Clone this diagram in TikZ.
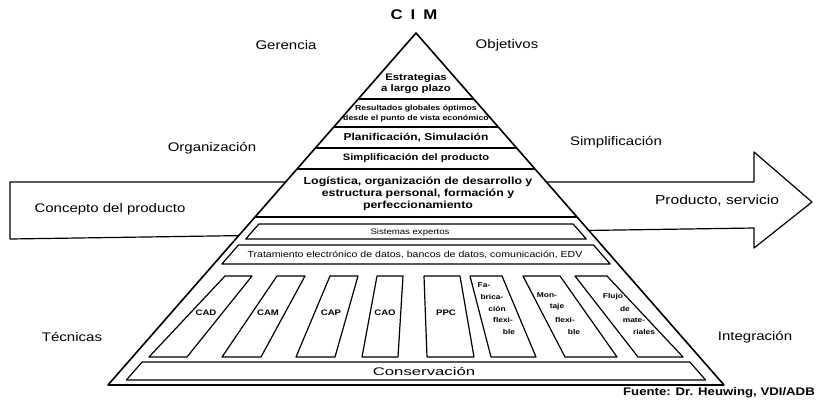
\documentclass[tikz,border=0pt]{standalone}
\usepackage{fontspec}
\setmainfont{Liberation Sans}
\newfontfamily\lab[FakeStretch=1.2]{Liberation Sans}
\newcommand\pyrline[1]{\draw[seg] ({416-0.875*(#1-33)},#1) -- ({416+0.875*(#1-33)},#1);}
\newcommand\pyrband[3]{\draw[seg] ({416-0.875*(#1-33)+#3},#1) -- ({416+0.875*(#1-33)-#3},#1) -- ({416+0.875*(#2-33)-#3},#2) -- ({416-0.875*(#2-33)+#3},#2) -- cycle;}
\tikzset{
  outer/.style={line width=1.6pt},
  seg/.style={line width=1.2pt},
  lbl/.style={inner sep=0pt, font=\lab\fontsize{12.5}{14}\selectfont},
  lay/.style={inner sep=0pt, align=center},
}
\begin{document}
\begin{tikzpicture}[x=1pt,y=-1pt,line join=round]
\useasboundingbox (0,0) rectangle (818,400);
\fill[white] (0,0) rectangle (818,400);
% big arrow behind the pyramid
\draw[seg, fill=white] (10,182) coordinate (arL) -- (754,182) -- (754,152) -- (812,202) coordinate (tip) -- (754,248) -- (754,228) -- (10,239) -- cycle;
% pyramid
\draw[outer, fill=white] (416,33) coordinate (apex) -- (724,385) coordinate (br) -- (108,385) coordinate (bl) -- cycle;
% upper layers
\pyrline{99}
\pyrline{127}
\pyrline{148}
\pyrline{169}
\pyrline{217}
% lower bands
\pyrband{224}{239}{10}
\pyrband{245}{264}{8}
\pyrband{362}{380}{14}
% technique boxes
\draw[seg] (225,276) -- (252,276) -- (187,357) -- (149,357) -- cycle;
\draw[seg] (277,276) -- (305,276) -- (261,357) -- (222,357) -- cycle;
\draw[seg] (330,276) -- (358,276) -- (335,357) -- (296,357) -- cycle;
\draw[seg] (377,276) -- (403,276) -- (398,357) -- (362,357) -- cycle;
\draw[seg] (424,276) -- (460,276) -- (474,357) -- (427,357) -- cycle;
\draw[seg] (470,276) -- (502,276) -- (536,357) -- (491,357) -- cycle;
\draw[seg] (523,276) -- (560,276) -- (617,357) -- (565,357) -- cycle;
\draw[seg] (575,276) -- (607,276) -- (683,357) -- (638,357) -- cycle;
% title and outer labels
\node[inner sep=0pt, font=\lab\bfseries\fontsize{14}{16}\selectfont] (cim) at (414,15) {C\hspace{8pt}I\hspace{8pt}M};
\node[lbl] (ger) at (286,45) {Gerencia};
\node[lbl] (obj) at (507,45) {Objetivos};
\node[lbl] (org) at (212,148) {Organización};
\node[lbl] (sim) at (616,142) {Simplificación};
\node[lbl] (con) at (110,209) {Concepto del producto};
\node[lbl, font=\lab\fontsize{13}{15}\selectfont] (pro) at (717,201) {Producto, servicio};
\node[lbl] (tec) at (72,337) {Técnicas};
\node[lbl] (int) at (755,337) {Integración};
\node[inner sep=0pt, anchor=east, font=\lab\bfseries\fontsize{11}{13}\selectfont] (src) at (815,393) {Fuente: Dr. Heuwing, VDI/ADB};
% layer texts
\node[lay, font=\lab\bfseries\fontsize{9.5}{11}\selectfont] (l1) at (416,83.5) {Estrategias\\a largo plazo};
\node[lay, font=\lab\bfseries\fontsize{7.3}{9.5}\selectfont] (l2) at (416,113.5) {Resultados globales óptimos\\desde el punto de vista económico};
\node[lay, font=\lab\bfseries\fontsize{10}{12}\selectfont] (l3) at (416,137.5) {Planificación, Simulación};
\node[lay, font=\lab\bfseries\fontsize{9.3}{11}\selectfont] (l4) at (416,158.5) {Simplificación del producto};
\node[lay, font=\lab\bfseries\fontsize{10.3}{12}\selectfont] (l5) at (418,194) {Logística, organización de desarrollo y\\estructura personal, formación y\\perfeccionamiento};
\node[lay, font=\lab\fontsize{8}{10}\selectfont] (l6) at (410,232) {Sistemas expertos};
\node[lay, font=\lab\fontsize{8.8}{10}\selectfont] (l7) at (415,255) {Tratamiento electrónico de datos, bancos de datos, comunicación, EDV};
\node[lay, font=\lab\fontsize{11}{13}\selectfont] (l8) at (424,371.5) {\scalebox{1.27}[1]{Conservación}};
% box texts
\tikzset{bx/.style={inner sep=0pt, font=\lab\bfseries\fontsize{8}{9}\selectfont}}
\tikzset{bs/.style={inner sep=0pt, font=\lab\bfseries\fontsize{7}{8}\selectfont}}
\node[bx] (cad) at (206,313) {CAD};
\node[bx] (cam) at (268,313) {CAM};
\node[bx] (cap) at (331,313) {CAP};
\node[bx] (cao) at (385,313) {CAO};
\node[bx] (ppc) at (446,313) {PPC};
\node[bs] (fa1) at (484,285) {Fa-};
\node[bs] (fa2) at (492,297) {brica-};
\node[bs] (fa3) at (497,308.5) {ción};
\node[bs] (fa4) at (503,320) {flexi-};
\node[bs] (fa5) at (509,332) {ble};
\node[bs] (mo1) at (547,295) {Mon-};
\node[bs] (mo2) at (557,307) {taje};
\node[bs] (mo3) at (565,320) {flexi-};
\node[bs] (mo4) at (574,332) {ble};
\node[bs] (fl1) at (613,297) {Flujo};
\node[bs] (fl2) at (625,308.5) {de};
\node[bs] (fl3) at (634,320) {mate-};
\node[bs] (fl4) at (644,332) {riales};
\end{tikzpicture}
\end{document}
